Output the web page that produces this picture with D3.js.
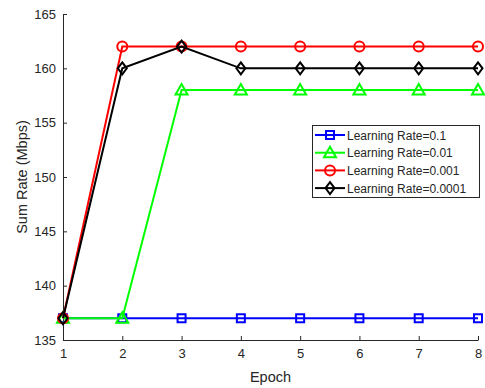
<!DOCTYPE html>
<html><head><meta charset="utf-8">
<script src="https://cdn.jsdelivr.net/npm/d3@7"></script>
<style>body{margin:0;background:#fff}svg{display:block}text{font-family:"Liberation Sans",Arial,sans-serif;fill:#262626}</style>
</head><body><svg id="c" width="485" height="388"></svg>
<script>
const epochs = [1,2,3,4,5,6,7,8];
const lr01 = [137,137,137,137,137,137,137,137];
const lr001 = [137,137,158,158,158,158,158,158];
const lr0001 = [137,162,162,162,162,162,162,162];
const lr00001 = [137,160,162,160,160,160,160,160];
const yTicks = [135,140,145,150,155,160,165];
const seriesNames = ["Learning Rate=0.1","Learning Rate=0.01","Learning Rate=0.001","Learning Rate=0.0001"];
const seriesColors = ["#0000ff","#00ff00","#ff0000","#000000"];
const seriesMarkers = ["square","triangle","circle","diamond"];
const seriesValues = [lr01, lr001, lr0001, lr00001];

const svg = d3.select("#c");
const L=63, R=478, T=14, B=340;
const x = d3.scaleLinear().domain([1,8]).range([L,R]);
const y = d3.scaleLinear().domain([135,165]).range([B,T]);

const axisCol="#262626";
const gx = svg.append("g").attr("transform",`translate(0,${B})`)
  .call(d3.axisBottom(x).tickValues(epochs).tickSizeInner(-4).tickSizeOuter(0).tickPadding(9).tickFormat(d3.format("d")));
const gy = svg.append("g").attr("transform",`translate(${L},0)`)
  .call(d3.axisLeft(y).tickValues(yTicks).tickSizeInner(-4).tickSizeOuter(0).tickPadding(7));
[gx,gy].forEach(g=>{
  g.select(".domain").attr("stroke",axisCol).attr("stroke-width",1);
  g.selectAll(".tick line").attr("stroke",axisCol);
  g.selectAll("text").attr("font-size",13).attr("fill",axisCol).style("font-family","'Liberation Sans',Arial,sans-serif");
});

svg.append("text").attr("x",(L+R)/2).attr("y",382).attr("text-anchor","middle").attr("font-size",14.5).text("Epoch");
svg.append("text").attr("transform",`translate(27,${(T+B)/2}) rotate(-90)`).attr("text-anchor","middle").attr("font-size",14.5).text("Sum Rate (Mbps)");

function marker(g, type, cx, cy, col){
  const sw=2;
  if(type==="square") g.append("rect").attr("x",cx-4).attr("y",cy-4).attr("width",8).attr("height",8).attr("fill","none").attr("stroke",col).attr("stroke-width",sw);
  else if(type==="circle") g.append("circle").attr("cx",cx).attr("cy",cy).attr("r",5).attr("fill","none").attr("stroke",col).attr("stroke-width",sw);
  else if(type==="triangle") g.append("path").attr("d",`M${cx},${cy-6}L${cx+6},${cy+4.5}L${cx-6},${cy+4.5}Z`).attr("fill","none").attr("stroke",col).attr("stroke-width",sw);
  else if(type==="diamond") g.append("path").attr("d",`M${cx},${cy-6}L${cx+4.5},${cy}L${cx},${cy+6}L${cx-4.5},${cy}Z`).attr("fill","none").attr("stroke",col).attr("stroke-width",sw);
}

const line = d3.line().x((d,i)=>x(epochs[i])).y(d=>y(d));
seriesValues.forEach((vals,si)=>{
  const g = svg.append("g");
  g.append("path").datum(vals).attr("d",line).attr("fill","none").attr("stroke",seriesColors[si]).attr("stroke-width",2);
  vals.forEach((v,i)=>marker(g, seriesMarkers[si], x(epochs[i]), y(v), seriesColors[si]));
});

// legend
const lg = svg.append("g");
lg.append("rect").attr("x",312.5).attr("y",125.5).attr("width",167).attr("height",72).attr("fill","#fff").attr("stroke","#262626").attr("stroke-width",1);
seriesNames.forEach((n,i)=>{
  const yy = 135 + i*17.7;
  lg.append("line").attr("x1",315).attr("x2",345).attr("y1",yy).attr("y2",yy).attr("stroke",seriesColors[i]).attr("stroke-width",2);
  marker(lg, seriesMarkers[i], 330, yy, seriesColors[i]);
  lg.append("text").attr("x",347).attr("y",yy+4.5).attr("font-size",12).attr("fill","#000").text(n);
});
</script></body></html>
